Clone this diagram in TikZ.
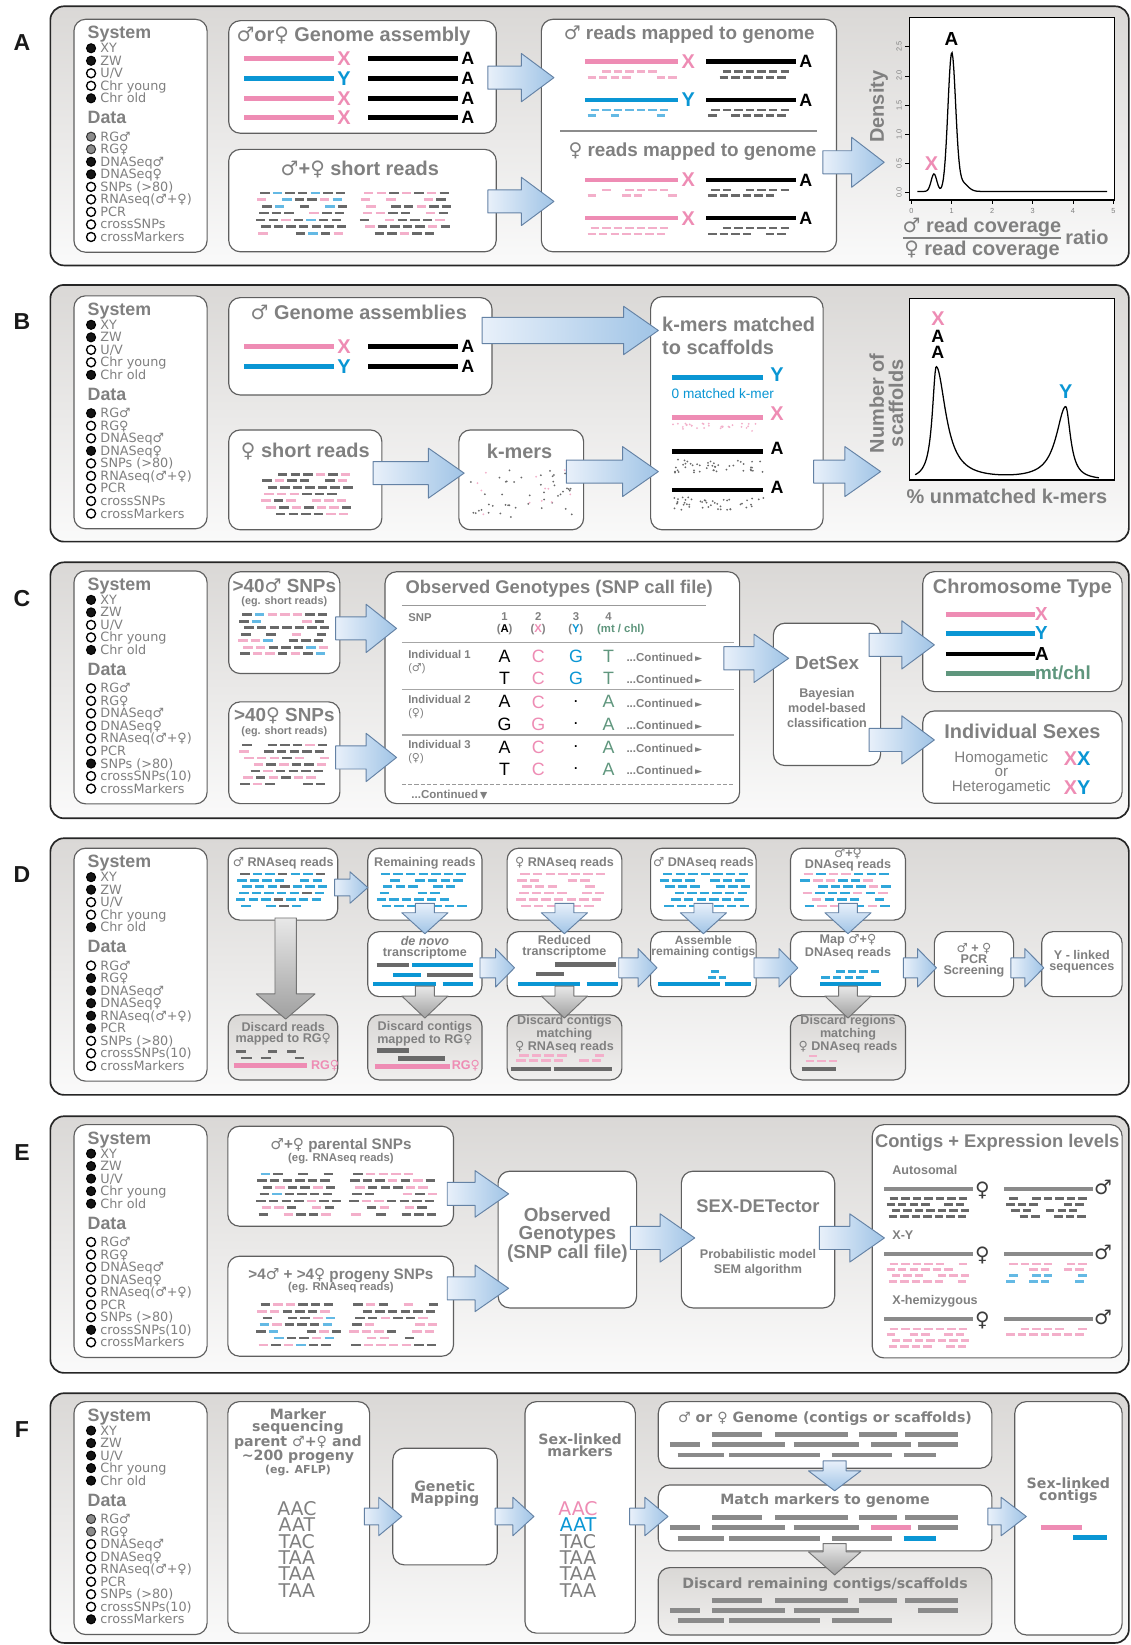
\documentclass[tikz,border=0pt]{standalone}
\usepackage{fontspec}
\setmainfont{Liberation Sans}
\newfontfamily\djf{DejaVu Sans}
\usetikzlibrary{calc}
\definecolor{tgray}{RGB}{128,128,128}
\definecolor{cpink}{RGB}{238,140,180}
\definecolor{cblue}{RGB}{10,150,212}
\definecolor{cgreen}{RGB}{95,150,125}
\definecolor{rdg}{RGB}{105,105,105}
\definecolor{lpink}{RGB}{243,175,202}
\definecolor{lblue}{RGB}{100,185,228}
\definecolor{bxg}{RGB}{95,95,95}
\definecolor{pTop}{RGB}{218,216,214}
\definecolor{pBot}{RGB}{250,250,250}
\definecolor{gTop}{RGB}{218,216,214}
\definecolor{gBot}{RGB}{240,239,238}
\definecolor{abL}{RGB}{232,240,250}
\definecolor{abR}{RGB}{160,196,230}
\definecolor{abB}{RGB}{100,130,165}
\definecolor{gaT}{RGB}{232,232,232}
\definecolor{gaB}{RGB}{160,160,160}
\definecolor{fbar}{RGB}{138,138,138}
\definecolor{symc}{RGB}{60,60,60}
\newcommand\fsz[1]{\fontsize{#1}{#1}\selectfont}
\newcommand\symM{{\normalfont\djf ♂}}
\newcommand\symF{{\normalfont\djf ♀}}
\newcommand\uvtxt{U/V}
\newcommand\mtchl{mt/chl}
\pgfmathdeclarerandomlist{mixGPB}{{rg}{rg}{rg}{rg}{rp}{rp}{rb}{rn}}
\pgfmathdeclarerandomlist{mixGP}{{rg}{rg}{rg}{rp}{rp}{rn}}
\pgfmathdeclarerandomlist{oP}{{rp}{rp}{rp}{rp}{rn}}
\pgfmathdeclarerandomlist{oB}{{rb}{rb}{rb}{rb}{rn}}
\pgfmathdeclarerandomlist{oG}{{rg}{rg}{rg}{rg}{rn}}
\pgfmathdeclarerandomlist{mixBG}{{rB}{rB}{rB}{rB}{rB}{rg}{rn}}
\pgfmathdeclarerandomlist{oBB}{{rB}{rB}{rB}{rB}{rn}}
\pgfmathdeclarerandomlist{mixPB}{{rp}{rp}{rB}{rB}{rn}}
\tikzset{
 panel/.style={draw=black!85,line width=1.6,rounded corners=13,top color=pTop,bottom color=pBot,inner sep=0,outer sep=0},
 wbox/.style={draw=bxg,line width=1.1,rounded corners=11,fill=white,inner sep=0,outer sep=0},
 gbx/.style={wbox,top color=gTop,bottom color=gBot},
 pfr/.style={draw=black,line width=1.1,fill=white,inner sep=0,outer sep=0},
 plab/.style={font=\bfseries\fsz{22},text=black!90,inner sep=0},
 ttl/.style={font=\bfseries\fsz{19},text=tgray,inner sep=0},
 ttm/.style={font=\bfseries\fsz{17.5},text=tgray,inner sep=0},
 tts/.style={font=\bfseries\fontsize{12}{10.5}\selectfont,text=tgray,inner sep=0,align=center},
 tsm/.style={font=\bfseries\fontsize{12}{14.2}\selectfont,text=tgray,inner sep=0,align=center},
 sub/.style={font=\bfseries\fsz{10.8},text=tgray,inner sep=0},
 esub/.style={font=\bfseries\fsz{12},text=tgray,inner sep=0},
 ftt/.style={font=\djf\bfseries\fontsize{13.5}{11.8}\selectfont,text=tgray,inner sep=0,align=center},
 seq/.style={font=\djf\fsz{18},text=tgray,inner sep=0},
 sym/.style={font=\djf\fsz{19},text=symc,inner sep=0},
 tk/.style={font=\fsz{7},text=tgray,inner sep=0},
 gt/.style={font=\fsz{17},inner sep=0},
 lhead/.style={font=\bfseries\fsz{17},text=tgray,inner sep=0,anchor=base west},
 litem/.style={font=\djf\fsz{12.2},text=tgray,inner sep=0,anchor=base west},
 lf/.style={fill=black!92,draw=black,line width=1},
 lo/.style={fill=white,draw=black,line width=1.3},
 lg/.style={fill=black!45,draw=black!80,line width=1},
 chr/.style={line width=4.3},
 chl/.style={font=\bfseries\fsz{19},inner sep=0},
 cha/.style={font=\bfseries\fsz{17},text=black,inner sep=0},
 rg/.style={draw=rdg,line width=2.5},
 rp/.style={draw=lpink,line width=2.5},
 rb/.style={draw=lblue,line width=2.5},
 rB/.style={draw=cblue!85,line width=2.5},
 rn/.style={draw=none},
 dbar/.style={line width=4.6},
 fbr/.style={draw=fbar,line width=4.5},
 barrow/.style={draw=abB,line width=0.9,left color=abL,right color=abR,line join=round},
 darrow/.style={draw=abB,line width=0.9,top color=abL,bottom color=abR,line join=round},
 garrow/.style={draw=black!55,line width=0.9,top color=gaT,bottom color=gaB,line join=round},
}
\newcommand\mkbox[6]{\node[#6,anchor=north west,minimum width={(#4)-(#2)},minimum height={(#5)-(#3)}] (#1) at (#2,#3) {};}
\newcommand\RA[7][]{%
 \path[barrow,#1] let \p1=(#2), \p2=(#3) in
 (\x1,{#5pt-#4pt}) -- (\x2-#7pt,{#5pt-#4pt}) -- (\x2-#7pt,{#6pt-#4pt}) -- (\x2,{-#4pt})
 -- (\x2-#7pt,{-#6pt-#4pt}) -- (\x2-#7pt,{-#5pt-#4pt}) -- (\x1,{-#5pt-#4pt}) -- cycle;}
\newcommand\DA[7][]{%
 \path[darrow,#1] let \p1=(#2), \p2=(#3) in
 ({#4pt-#5pt},\y1) -- ({#4pt-#5pt},\y2+#7pt) -- ({#4pt-#6pt},\y2+#7pt) -- ({#4pt},\y2)
 -- ({#4pt+#6pt},\y2+#7pt) -- ({#4pt+#5pt},\y2+#7pt) -- ({#4pt+#5pt},\y1) -- cycle;}
\newcommand\reads[7]{%
 \foreach \ri in {1,...,#4}{%
  \pgfmathsetmacro\ry{#2+(\ri-1)*#5}%
  \pgfmathsetmacro\rs{mod(\ri*5,8)}%
  \pgfmathtruncatemacro\rnn{(#3-\rs-#7)/(#7+3)}%
  \foreach \ki in {0,...,\rnn}{%
   \pgfmathrandomitem\rcc{#6}%
   \draw[\rcc] ({#1+\rs+\ki*(#7+3)},\ry) -- ++(#7,0);}}}
\newcommand\kdots[6]{%
 \foreach \di in {1,...,#5}{%
  \pgfmathsetmacro\dxx{#1+rnd*#3}\pgfmathsetmacro\dyy{#2+rnd*#4}%
  \fill[#6] (\dxx,\dyy) circle (0.95);}}
\newcommand\legendbox[4]{%
 \mkbox{#1}{70.5}{#2}{197.4}{#2+222}{wbox}
 \node[lhead] (#1-hs) at (83.4,#2+18.5) {System};
 \foreach \st/\lb [count=\i from 0] in {#3}{%
   \draw[\st] (86.8,#2+27.6+11.93*\i) circle (4.3);
   \node[litem] (#1-s\i) at (95.5,#2+31.9+11.93*\i) {\lb};}
 \node[lhead] (#1-hd) at (83.4,#2+99.5) {Data};
 \foreach \st/\lb [count=\i from 0] in {#4}{%
   \draw[\st] (86.8,#2+111.9+11.95*\i) circle (4.3);
   \node[litem] (#1-d\i) at (95.5,#2+116.2+11.95*\i) {\lb};}}
\begin{document}
\begin{tikzpicture}[x=1pt,y=-1pt,
 declare function={gs(\t,\w)=exp(-min((\t)*(\t)/(2*(\w)*(\w)),9));lz(\t,\w)=1/(1+((\t)/(\w))*((\t)/(\w)));}]
\pgfmathsetseed{7}
\fill[white] (0,0) rectangle (1078,1568);
\useasboundingbox (0,0) rectangle (1078,1568);

%================ A
\node[plab] (lA) at (21,41) {A};
\mkbox{pA}{48}{6}{1076}{253}{panel}
\legendbox{lgA}{18.4}{lf/XY,lf/ZW,lo/\uvtxt,lo/Chr young,lf/Chr old}{lg/RG♂,lg/RG♀,lf/DNASeq♂,lf/DNASeq♀,lo/SNPs (>80),lo/RNAseq(♂+♀),lo/PCR,lo/crossSNPs,lo/crossMarkers}
\mkbox{gA}{218}{19.7}{473}{127}{wbox}
\node[ttl] (gAt) at (337,35) {\symM or\symF\ Genome assembly};
\foreach \yy/\cc/\ll [count=\i] in {55.6/cpink/X,74.7/cblue/Y,93.7/cpink/X,111.8/cpink/X}{
  \draw[chr,draw=\cc] (233,\yy) -- (318,\yy);
  \node[chl,text=\cc] (gAx\i) at (328,\yy) {\ll};
  \draw[chr,draw=black] (351,\yy) -- (437,\yy);
  \node[cha] (gAa\i) at (446,\yy) {A};}
\mkbox{sA}{218}{142.4}{473}{240}{wbox}
\node[ttl] (sAt) at (343,162) {\symM+\symF\ short reads};
\reads{243}{184}{88}{7}{6.4}{mixGPB}{9}
\reads{342}{184}{88}{7}{6.4}{mixGP}{9}
\mkbox{mA}{516}{18.4}{797.4}{240}{wbox}
\node[ttl,font=\bfseries\fsz{18}] (mAt1) at (657,33.4) {\symM\ reads mapped to genome};
\draw[line width=2.5,black!45] (534,124.9) -- (779,124.9);
\node[ttl,font=\bfseries\fsz{18}] (mAt2) at (660,144.6) {\symF\ reads mapped to genome};
\foreach \yy/\cc/\ll/\lst [count=\i] in {58.8/cpink/X/oP,95.3/cblue/Y/oB,171.6/cpink/X/oP,208/cpink/X/oP}{
  \draw[chr,draw=\cc] (558,\yy) -- (646,\yy);
  \node[chl,text=\cc] (mAx\i) at (656,\yy) {\ll};
  \draw[chr,draw=black] (673,\yy) -- (759,\yy);
  \node[cha] (mAa\i) at (768,\yy) {A};
  \reads{558}{\yy+9.5}{88}{2}{5.5}{\lst}{8}
  \reads{673}{\yy+9.5}{86}{2}{5.5}{oG}{8}}
\mkbox{plA}{866.8}{16.5}{1062}{190.6}{pfr}
\draw[line width=1.2] plot[domain=0.15:4.85,samples=220] ({868.7+38.5*\x},{183.6-55.64*(0.02+0.3*gs(\x-0.56,0.07)+2.35*gs(\x-1,0.095)+0.15*gs(\x-1.25,0.14))});
\foreach \u in {0,...,5}{\draw[line width=0.6] ({868.7+38.5*\u},190.6) -- ++(0,4); \node[tk] (xtA\u) at ({868.7+38.5*\u},201) {\u};}
\foreach \v/\lab [count=\i] in {0/0.0,0.5/0.5,1/1.0,1.5/1.5,2/2.0,2.5/2.5}{\draw[line width=0.6] (866.8,{183.6-55.64*\v}) -- ++(-4,0); \node[tk,rotate=90] (ytA\i) at (857,{183.6-55.64*\v}) {\lab};}
\node[ttl,rotate=90] (dA) at (837.6,101.7) {Density};
\node[cha,font=\bfseries\fsz{18}] (pkA) at (907,37) {A};
\node[chl,text=cpink] (pkX) at (888,156) {X};
\node[ttl] (rc1) at (936,217) {\symM\ read coverage};
\draw[line width=1.6,tgray] (861,227) -- (1011,227);
\node[ttl] (rc2) at (936,238.8) {\symF\ read coverage};
\node[ttl] (rat) at (1036,226) {ratio};
\RA{$(gA.east)+(-8,0)$}{$(mA.west)+(12,0)$}{74}{11}{23}{31}
\RA{$(sA.east)+(-8,0)$}{$(mA.west)+(12,0)$}{192}{11}{23}{31}
\RA{$(mA.east)+(-13,0)$}{$(plA.west)+(-24,0)$}{154.7}{11}{23.8}{31}

%================ B
\node[plab] (lB) at (21,306.6) {B};
\mkbox{pB}{48}{271.6}{1076}{516.3}{panel}
\legendbox{lgB}{282}{lf/XY,lf/ZW,lo/\uvtxt,lo/Chr young,lf/Chr old}{lf/RG♂,lo/RG♀,lo/DNASeq♂,lf/DNASeq♀,lo/SNPs (>80),lo/RNAseq(♂+♀),lo/PCR,lo/crossSNPs,lo/crossMarkers}
\mkbox{gB}{218}{283.7}{469}{376.5}{wbox}
\node[ttl] (gBt) at (342,297.5) {\symM\ Genome assemblies};
\foreach \yy/\cc/\ll [count=\i] in {330.4/cpink/X,349.5/cblue/Y}{
  \draw[chr,draw=\cc] (233,\yy) -- (318,\yy);
  \node[chl,text=\cc] (gBx\i) at (328,\yy) {\ll};
  \draw[chr,draw=black] (351,\yy) -- (437,\yy);
  \node[cha] (gBa\i) at (446,\yy) {A};}
\mkbox{sB}{218}{409.8}{364}{505}{wbox}
\node[ttl] (sBt) at (291,430.5) {\symF\ short reads};
\reads{248}{452}{90}{7}{6.3}{mixGP}{9}
\mkbox{kB}{437.4}{409.8}{556.3}{505}{wbox}
\node[ttl] (kBt) at (495.3,430.5) {k-mers};
\kdots{448}{446}{100}{48}{45}{rdg}
\kdots{448}{446}{100}{48}{12}{lpink}
\mkbox{mB}{620.2}{282.8}{784.6}{505}{wbox}
\node[ttl,anchor=west] (mBt1) at (631,309) {k-mers matched};
\node[ttl,anchor=west] (mBt2) at (631,331.4) {to scaffolds};
\draw[chr,draw=cblue] (640.3,360) -- (727,360);
\node[chl,text=cblue] (mBy) at (740.6,357.4) {Y};
\node[font=\fsz{13},text=cblue,anchor=west,inner sep=0] (mB0) at (640,375) {0 matched k-mer};
\draw[chr,draw=cpink] (640.3,398) -- (727,398);
\node[chl,text=cpink] (mBx) at (740.6,394) {X};
\kdots{640}{403}{88}{8}{30}{lpink}
\draw[chr,draw=black] (640.3,430.5) -- (727,430.5);
\node[cha] (mBa1) at (740.6,427.3) {A};
\kdots{640}{438}{88}{13}{45}{rdg}
\draw[chr,draw=black] (640.3,467) -- (727,467);
\node[cha] (mBa2) at (740.6,464.8) {A};
\kdots{640}{474}{88}{12}{45}{rdg}
\mkbox{plB}{866.9}{284.3}{1062.2}{457.5}{pfr}
\draw[line width=1.2] plot[domain=872.3:1047.5,samples=250] (\x,{458-108*lz(\x-892.4,4.5+6.5*(\x>892.4))-69.6*lz(\x-1015.8,11-5.5*(\x>1015.8))});
\node[chl,text=cpink] (pkBx) at (894,303.4) {X};
\node[cha] (pkBa1) at (894,320.2) {A};
\node[cha] (pkBa2) at (894,335.8) {A};
\node[chl,text=cblue] (pkBy) at (1015.8,373.3) {Y};
\node[ttl,rotate=90] (nB1) at (835.8,384.4) {Number of};
\node[ttl,rotate=90] (nB2) at (854,384.4) {scaffolds};
\node[ttl] (uB) at (959.8,473.4) {\% unmatched k-mers};
\RA{$(gB.east)+(-9.5,0)$}{$(mB.west)+(7.3,0)$}{315}{12.5}{23}{33}
\RA{$(sB.east)+(-8.4,0)$}{$(kB.west)+(5,0)$}{451}{11}{23.8}{34}
\RA{$(kB.east)+(-16.5,0)$}{$(mB.west)+(7.3,0)$}{449.5}{11}{23.8}{34}
\RA{$(mB.east)+(-9,0)$}{$(plB.west)+(-27.5,0)$}{449.5}{11}{23.8}{34}

%================ C
\node[plab] (lC) at (21,571) {C};
\mkbox{pC}{48}{536}{1076}{780}{panel}
\legendbox{lgC}{544.2}{lf/XY,lf/ZW,lo/\uvtxt,lo/Chr young,lf/Chr old}{lo/RG♂,lo/RG♀,lo/DNASeq♂,lo/DNASeq♀,lo/RNAseq(♂+♀),lo/PCR,lf/SNPs (>80),lo/crossSNPs(10),lo/crossMarkers}
\mkbox{cA}{218}{545}{324}{642}{wbox}
\node[ttl,font=\bfseries\fsz{18}] (cAt) at (271,558.5) {>40\symM\ SNPs};
\node[sub,font=\bfseries\fsz{10.3}] (cAs) at (271,573.5) {(eg. short reads)};
\reads{226}{586}{92}{7}{6.2}{mixGPB}{9}
\mkbox{cB}{218}{669}{324}{766}{wbox}
\node[ttl,font=\bfseries\fsz{18}] (cBt) at (271,682.5) {>40\symF\ SNPs};
\node[sub,font=\bfseries\fsz{10.3}] (cBs) at (271,697.5) {(eg. short reads)};
\reads{226}{710}{92}{7}{6.2}{mixGP}{9}
\mkbox{cT}{367}{545}{705}{766}{wbox}
\node[ttm] (cTt) at (533,561) {Observed Genotypes (SNP call file)};
\draw[line width=1.5,black!40] (383,577) -- (673,577);
\node[sub,anchor=west] (cTsnp) at (389,589) {SNP};
\node[sub] (h1) at (481,588) {1}; \node[sub] (h1b) at (481,600) {(\textcolor{black}{A})};
\node[sub] (h2) at (513,588) {2}; \node[sub] (h2b) at (513,600) {(\textcolor{cpink}{X})};
\node[sub] (h3) at (549,588) {3}; \node[sub] (h3b) at (549,600) {(\textcolor{cblue}{Y})};
\node[sub] (h4) at (580,588) {4}; \node[sub,text=cgreen,anchor=west] (h4b) at (569,600) {(mt / chl)};
\draw[line width=1.4,black!35] (383,612.5) -- (700,612.5);
\draw[line width=1.2,black!35] (383,657) -- (700,657);
\draw[line width=1.2,black!35] (383,700.5) -- (700,700.5);
\draw[line width=1.2,black!40,dash pattern=on 4pt off 2pt] (383,747.5) -- (700,747.5);
\foreach \ind/\sx/\ya [count=\i] in {Individual 1/\symM/624,Individual 2/\symF/667,Individual 3/\symF/710}{
  \node[sub,anchor=west] (ind\i) at (389,\ya) {\ind};
  \node[font=\fsz{10.5},text=tgray,anchor=west,inner sep=0] (inds\i) at (389,\ya+13) {(\sx)};}
\foreach \yy/\a/\b/\c/\d/\cc [count=\i] in {626/A/C/G/T/cblue,647/T/C/G/T/cblue,669/A/C/./A/black,690/G/G/./A/black,712/A/C/./A/black,733/T/C/./A/black}{
  \node[gt,text=black] (gl\i-a) at (481,\yy) {\a};
  \node[gt,text=cpink] (gl\i-b) at (513,\yy) {\b};
  \node[gt,text=\cc] (gl\i-c) at (549,\yy) {\c};
  \node[gt,text=cgreen] (gl\i-d) at (580,\yy) {\d};
  \node[sub,font=\bfseries\fsz{11},anchor=west] (gl\i-e) at (597,\yy+1) {...Continued\,{\djf\fsz{9}►}};}
\node[sub,font=\bfseries\fsz{11},anchor=west] (cont) at (392,757.5) {...Continued\,{\djf\fsz{9}▼}};
\mkbox{cD}{737.2}{594}{839.4}{729.7}{wbox}
\node[ttm,font=\bfseries\fsz{18}] (cDt) at (788.3,632) {DetSex};
\node[tsm] (cDs) at (788.3,675) {Bayesian\\model-based\\classification};
\mkbox{cK}{879.6}{544.9}{1069.6}{659.2}{wbox}
\node[ttl] (cKt) at (974.6,561) {Chromosome Type};
\foreach \yy/\cc/\ll [count=\i] in {585.5/cpink/X,603.6/cblue/Y,623.6/black/A,641.8/cgreen/\mtchl}{
  \draw[chr,draw=\cc] (901.5,\yy) -- (986.7,\yy);
  \node[chl,font=\bfseries\fsz{18},text=\cc,anchor=west] (cK\i) at (986.5,\yy) {\ll};}
\mkbox{cI}{879.6}{677.7}{1069.6}{765.7}{wbox}
\node[ttl] (cIt) at (974.6,697) {Individual Sexes};
\node[font=\fontsize{14.5}{13.8}\selectfont,text=tgray,align=center,inner sep=0] (cIh) at (954.5,736.5) {Homogametic\\or\\Heterogametic};
\node[chl] (cIxx) at (1026.7,723) {\textcolor{cpink}{X}\textcolor{cblue}{X}};
\node[chl] (cIxy) at (1026.7,750.4) {\textcolor{cpink}{X}\textcolor{cblue}{Y}};
\RA{$(cA.east)+(-4,0)$}{$(cT.west)+(11,0)$}{599}{11}{23}{29}
\RA{$(cB.east)+(-4,0)$}{$(cT.west)+(11,0)$}{722}{11}{23}{29}
\RA{$(cT.east)+(-15,0)$}{$(cD.west)+(14.5,0)$}{627.5}{11.1}{23}{33}
\RA{$(cD.east)+(-11,0)$}{$(cK.west)+(11,0)$}{614.7}{11}{23}{31}
\RA{$(cD.east)+(-11,0)$}{$(cI.west)+(11,0)$}{705.3}{11}{23}{31}

%================ D
\node[plab] (lD) at (21,834) {D};
\mkbox{pD}{48}{799}{1076}{1043.6}{panel}
\legendbox{lgD}{808.5}{lf/XY,lf/ZW,lo/\uvtxt,lo/Chr young,lf/Chr old}{lo/RG♂,lf/RG♀,lf/DNASeq♂,lf/DNASeq♀,lf/RNAseq(♂+♀),lf/PCR,lo/SNPs (>80),lo/crossSNPs(10),lo/crossMarkers}
\mkbox{d1}{217.5}{808.5}{322}{877}{wbox}
\mkbox{d2}{350.6}{808.5}{459.5}{877}{wbox}
\mkbox{d3}{483.4}{808.5}{592.8}{877}{wbox}
\mkbox{d4}{620.2}{808.5}{720.7}{877}{wbox}
\mkbox{d5}{753.5}{808.5}{863.1}{877}{wbox}
\mkbox{m1}{350.6}{888}{459.5}{950}{wbox}
\mkbox{m2}{483.4}{888}{592.8}{950}{wbox}
\mkbox{m3}{620.2}{888}{720.7}{950}{wbox}
\mkbox{m4}{753.5}{888}{863.1}{950}{wbox}
\mkbox{m5}{890.6}{888}{966.2}{950}{wbox}
\mkbox{m6}{992.9}{888}{1069.6}{950}{wbox}
\mkbox{b1}{217.5}{967.4}{322}{1029.4}{gbx}
\mkbox{b2}{350.6}{967.4}{459.5}{1029.4}{gbx}
\mkbox{b3}{483.4}{967.4}{592.8}{1029.4}{gbx}
\mkbox{b4}{753.5}{967.4}{863.1}{1029.4}{gbx}
\node[tts] (d1t) at (270,822.8) {\symM\ RNAseq reads};
\node[tts] (d2t) at (405,822.8) {Remaining reads};
\node[tts] (d3t) at (538,822.8) {\symF\ RNAseq reads};
\node[tts] (d4t) at (670.5,822.8) {\symM\ DNAseq reads};
\node[tts] (d5t) at (808.3,819) {\symM+\symF\\DNAseq reads};
\reads{224}{833}{92}{6}{6.1}{mixBG}{9}
\reads{358}{833}{92}{6}{6.1}{oBB}{9}
\reads{491}{833}{92}{6}{6.1}{oP}{9}
\reads{627}{833}{88}{6}{6.1}{oBB}{9}
\reads{761}{833}{92}{6}{6.1}{mixPB}{9}
\node[tts] (m1t) at (405,903) {\textit{de novo}\\transcriptome};
\node[tts] (m2t) at (538,902.5) {Reduced\\transcriptome};
\node[tts,font=\bfseries\fontsize{11.5}{10.5}\selectfont] (m3t) at (670.5,902.5) {Assemble\\remaining contigs};
\node[tts] (m4t) at (808.3,902.5) {Map \symM+\symF\\DNAseq reads};
\node[tts] (m5t) at (928.4,915.5) {\symM\ + \symF\\PCR\\Screening};
\node[tts] (m6t) at (1031.2,916.6) {Y - linked\\sequences};
\draw[dbar,draw=rdg] (359,919.8) -- (389.8,919.8);
\draw[dbar,draw=cblue] (393,919.8) -- (451,919.8);
\draw[dbar,draw=cblue] (374.5,929.3) -- (401.6,929.3);
\draw[dbar,draw=rdg] (406.8,929.3) -- (451,929.3);
\draw[dbar,draw=cblue] (355.6,937.9) -- (415.9,937.9);
\draw[dbar,draw=cblue] (422,937.9) -- (451,937.9);
\draw[dbar,draw=rdg] (529,919) -- (587.3,919);
\draw[dbar,draw=rdg] (511,928.4) -- (538,928.4);
\draw[dbar,draw=cblue] (494,938) -- (552.6,938);
\draw[dbar,draw=cblue] (559.2,938) -- (589.2,938);
\reads{673}{926}{28}{2}{5.5}{oBB}{7}
\draw[dbar,draw=cblue] (627.5,937.9) -- (686,937.9);
\draw[dbar,draw=cblue] (690.7,937.9) -- (716.3,937.9);
\reads{781}{926}{58}{2}{5.5}{oBB}{8}
\draw[dbar,draw=cblue] (782,937.9) -- (839.4,937.9);
\node[tts] (b1t) at (270,985) {Discard reads\\mapped to RG\symF};
\node[tts] (b2t) at (405,985) {Discard contigs\\mapped to RG\symF};
\node[tts] (b3t) at (538,985.5) {Discard contigs\\matching\\\symF\ RNAseq reads};
\node[tts] (b4t) at (808.3,985.5) {Discard regions\\matching\\\symF\ DNAseq reads};
\foreach \a/\b/\yy in {224.7/234.9/1002.5,255.3/263.8/1002.5,274/282.6/1002.5,229.8/240/1008.5,248.5/258.7/1008.5,280.9/289.4/1008.5}{\draw[rg] (\a,\yy) -- (\b,\yy);}
\draw[dbar,draw=cpink] (223,1015.7) -- (292.8,1015.7);
\node[tts,text=cpink] (b1r) at (309.9,1015.7) {RG\symF};
\draw[dbar,draw=rdg] (359,1001.5) -- (389.8,1001.5);
\draw[dbar,draw=rdg] (379.6,1009) -- (423.8,1009);
\draw[dbar,draw=cpink] (357.4,1016.2) -- (428.9,1016.2);
\node[tts,text=cpink] (b2r) at (444,1016) {RG\symF};
\reads{490}{1006}{96}{2}{5}{oP}{9}
\draw[dbar,draw=rdg] (487,1019) -- (525,1019);
\draw[dbar,draw=rdg] (527.8,1019) -- (583.7,1019);
\reads{766}{1006.5}{32}{2}{5}{oP}{8}
\draw[dbar,draw=rdg] (764,1019) -- (797,1019);
\RA{$(d1.east)+(-3,0)$}{$(d2.west)+(0,0)$}{846}{8}{15}{17}
\DA{$(d2.south)+(0,-16)$}{$(m1.north)+(0,2)$}{405}{9}{22}{20}
\DA{$(d3.south)+(0,-16)$}{$(m2.north)+(0,2)$}{538}{9}{22}{20}
\DA{$(d4.south)+(0,-16)$}{$(m3.north)+(0,2)$}{670.5}{9}{22}{20}
\DA{$(d5.south)+(0,-16)$}{$(m4.north)+(0,2)$}{808.3}{9}{22}{20}
\RA{$(m1.east)+(-2,0)$}{$(m2.west)+(7,0)$}{922.5}{9.5}{18.3}{18}
\RA{$(m2.east)+(-3,0)$}{$(m3.west)+(6,0)$}{922.5}{9.5}{18.3}{18}
\RA{$(m3.east)+(-2,0)$}{$(m4.west)+(7,0)$}{922.5}{9.5}{18.3}{18}
\RA{$(m4.east)+(-2,0)$}{$(m5.west)+(2,0)$}{922.5}{9.5}{18.3}{18}
\RA{$(m5.east)+(-2.6,0)$}{$(m6.west)+(2,0)$}{922.5}{9.5}{18.3}{18}
\DA[garrow]{$(d1.south)+(0,-2)$}{$(b1.north)+(0,4)$}{272.3}{10.2}{28}{24}
\DA[garrow]{$(m1.south)+(0,-10)$}{$(b2.north)+(0,3)$}{405}{9}{22}{21}
\DA[garrow]{$(m2.south)+(0,-10)$}{$(b3.north)+(0,3)$}{538}{9}{22}{21}
\DA[garrow]{$(m4.south)+(0,-10)$}{$(b4.north)+(0,3)$}{808.3}{9}{22}{21}

%================ E
\node[plab] (lE) at (21,1099) {E};
\mkbox{pE}{48}{1064}{1076}{1308.6}{panel}
\legendbox{lgE}{1072}{lf/XY,lf/ZW,lf/\uvtxt,lf/Chr young,lf/Chr old}{lo/RG♂,lo/RG♀,lo/DNASeq♂,lo/DNASeq♀,lo/RNAseq(♂+♀),lo/PCR,lo/SNPs (>80),lf/crossSNPs(10),lo/crossMarkers}
\mkbox{eP}{217.2}{1073.5}{432.3}{1168.8}{wbox}
\node[ttl,font=\bfseries\fsz{14.5}] (ePt) at (325,1091.6) {\symM+\symF\ parental SNPs};
\node[sub] (ePs) at (325,1104.2) {(eg. RNAseq reads)};
\reads{243.4}{1119}{82}{7}{6.4}{mixGPB}{9}
\reads{331.8}{1119}{86}{7}{6.4}{mixGP}{9}
\mkbox{eQ}{217.2}{1197.4}{432.3}{1292.7}{wbox}
\node[ttl,font=\bfseries\fsz{14.5}] (eQt) at (325,1215.5) {>4\symM\ + >4\symF\ progeny SNPs};
\node[sub] (eQs) at (325,1227.5) {(eg. RNAseq reads)};
\reads{243.4}{1243.5}{82}{7}{6.4}{mixGPB}{9}
\reads{331.8}{1243.5}{86}{7}{6.4}{mixGP}{9}
\mkbox{eO}{474.8}{1116.4}{606.8}{1246.7}{wbox}
\node[ttl,font=\bfseries\fontsize{18}{17.8}\selectfont,align=center] (eOt) at (540.8,1177) {Observed\\Genotypes\\(SNP call file)};
\mkbox{eS}{649.5}{1116.4}{795.6}{1246.7}{wbox}
\node[ttm] (eSt) at (722.5,1150) {SEX-DETector};
\node[tsm] (eSs) at (722.5,1204) {Probabilistic model\\SEM algorithm};
\mkbox{eC}{831.4}{1072}{1069.6}{1294.3}{wbox}
\node[ttm] (eCt) at (950.5,1089.4) {Contigs + Expression levels};
\node[esub,anchor=west] (eC1) at (850.4,1114.8) {Autosomal};
\node[esub,anchor=west] (eC2) at (850.4,1177.7) {X-Y};
\node[esub,anchor=west] (eC3) at (850.4,1240.3) {X-hemizygous};
\foreach \yy [count=\i] in {1133.3,1195.2,1257.2}{
  \draw[chr,draw=fbar] (843,\yy) -- (927,\yy);
  \node[sym] (eCf\i) at (936.5,\yy+1.5) {♀};
  \draw[chr,draw=fbar] (957.4,\yy) -- (1042,\yy);
  \node[sym] (eCm\i) at (1051.5,\yy-1) {♂};}
\reads{843}{1142.6}{86}{4}{5.6}{oG}{8}
\reads{957}{1142.6}{86}{4}{5.6}{oG}{8}
\reads{843}{1204.7}{86}{4}{5.6}{oP}{8}
\reads{957}{1204.7}{86}{2}{5.6}{oP}{8}
\reads{957}{1215.9}{86}{2}{5.6}{oB}{8}
\reads{843}{1266.7}{86}{4}{5.6}{oP}{8}
\reads{957}{1266.7}{86}{2}{5.6}{oP}{8}
\RA{$(eP.east)+(-6,0)$}{$(eO.west)+(10,0)$}{1138}{11}{22.2}{32}
\RA{$(eQ.east)+(-6,0)$}{$(eO.west)+(10,0)$}{1228}{11}{22.2}{32}
\RA{$(eO.east)+(-6,0)$}{$(eS.west)+(12.7,0)$}{1180}{11}{23}{33}
\RA{$(eS.east)+(-14.6,0)$}{$(eC.west)+(11.6,0)$}{1180}{11}{23}{33}

%================ F
\node[plab] (lF) at (21,1363) {F};
\mkbox{pF}{48}{1328}{1076}{1566}{panel}
\legendbox{lgF}{1336}{lf/XY,lf/ZW,lf/\uvtxt,lf/Chr young,lf/Chr old}{lg/RG♂,lg/RG♀,lo/DNASeq♂,lo/DNASeq♀,lo/RNAseq(♂+♀),lo/PCR,lo/SNPs (>80),lo/crossSNPs(10),lf/crossMarkers}
\mkbox{fM}{217.2}{1336}{352.3}{1556.7}{wbox}
\node[ftt] (fMt) at (284,1374.4) {Marker\\sequencing\\parent \symM+\symF\ and\\\textasciitilde200 progeny\\{\fsz{10.5}(eg. AFLP)}};
\foreach \s/\yy [count=\i] in {AAC/1438,AAT/1453.6,TAC/1469.2,TAA/1484.8,TAA/1500.4,TAA/1516}{\node[seq] (fMs\i) at (283,\yy) {\s};}
\mkbox{fG}{374.4}{1380.4}{474}{1491.6}{wbox}
\node[ftt] (fGt) at (424,1424) {Genetic\\Mapping};
\mkbox{fS}{500.4}{1336}{605.6}{1556.7}{wbox}
\node[ftt] (fSt) at (553,1377.3) {Sex-linked\\markers};
\foreach \s/\yy/\cc [count=\i] in {AAC/1438/cpink,AAT/1453.6/cblue,TAC/1469.2/tgray,TAA/1484.8/tgray,TAA/1500.4/tgray,TAA/1516/tgray}{\node[seq,text=\cc] (fSs\i) at (551,\yy) {\s};}
\mkbox{fGn}{627.5}{1336}{945.4}{1399.5}{wbox}
\node[ftt] (fGnt) at (786.4,1351.8) {\symM\ or \symF\ Genome (contigs or scaffolds)};
\foreach \a/\b in {678.6/726.2,739/808.3,818.6/855.2,863.1/913.6}{\draw[fbr] (\a,1367) -- (\b,1367);}
\foreach \a/\b in {638.5/667.7,678.6/748.1,756.5/818.6,830.3/868.7,874.9/913.6}{\draw[fbr] (\a,1377.2) -- (\b,1377.2);}
\foreach \a/\b in {645.8/689.7,695.1/782,793/850.4,861.3/892.4}{\draw[fbr] (\a,1386.8) -- (\b,1386.8);}
\mkbox{fMt}{627.5}{1415.4}{945.4}{1478.3}{wbox}
\node[ftt] (fMtt) at (786.4,1430.6) {Match markers to genome};
\foreach \a/\b in {678.6/726.2,739/808.3,818.6/855.2,863.1/913.6}{\draw[fbr] (\a,1446.5) -- (\b,1446.5);}
\foreach \a/\b in {638.5/667.7,678.6/748.1,756.5/818.6,874.9/913.6}{\draw[fbr] (\a,1456) -- (\b,1456);}
\draw[fbr,draw=cpink] (830.3,1456) -- (868.7,1456);
\foreach \a/\b in {645.8/689.7,695.1/782,793/850.4}{\draw[fbr] (\a,1466.2) -- (\b,1466.2);}
\draw[fbr,draw=cblue] (861.3,1466.2) -- (892.4,1466.2);
\mkbox{fD}{627.5}{1494.2}{945.4}{1558.4}{gbx}
\node[ftt] (fDt) at (786.4,1510) {Discard remaining contigs/scaffolds};
\foreach \a/\b in {678.6/726.2,739/808.3,818.6/855.2,863.1/913.6}{\draw[fbr] (\a,1525.5) -- (\b,1525.5);}
\foreach \a/\b in {638.5/667.7,678.6/748.1,756.5/818.6,874.9/913.6}{\draw[fbr] (\a,1535) -- (\b,1535);}
\foreach \a/\b in {645.8/689.7,695.1/782,793/850.4}{\draw[fbr] (\a,1544.5) -- (\b,1544.5);}
\mkbox{fC}{967.3}{1336}{1069.6}{1558.4}{wbox}
\node[ftt] (fCt) at (1018.4,1421) {Sex-linked\\contigs};
\draw[fbr,draw=cpink] (992.1,1456) -- (1031.3,1456);
\draw[fbr,draw=cblue] (1023.2,1465.5) -- (1054.9,1465.5);
\RA{$(fM.east)+(-5,0)$}{$(fG.west)+(8.6,0)$}{1445.5}{8}{18.3}{22}
\RA{$(fG.east)+(-2,0)$}{$(fS.west)+(8.5,0)$}{1445.5}{8}{18.3}{20}
\RA{$(fS.east)+(-5.4,0)$}{$(fMt.west)+(9.2,0)$}{1445.5}{8}{18.3}{22}
\RA{$(fMt.east)+(-3.7,0)$}{$(fC.west)+(11,0)$}{1445.5}{8}{18.3}{24}
\DA{$(fGn.south)+(0,-7)$}{$(fMt.north)+(0,5.6)$}{795.6}{11}{25}{19}
\DA[garrow]{$(fMt.south)+(0,-7)$}{$(fD.north)+(0,7)$}{795.6}{11}{25}{22}
\end{tikzpicture}
\end{document}
